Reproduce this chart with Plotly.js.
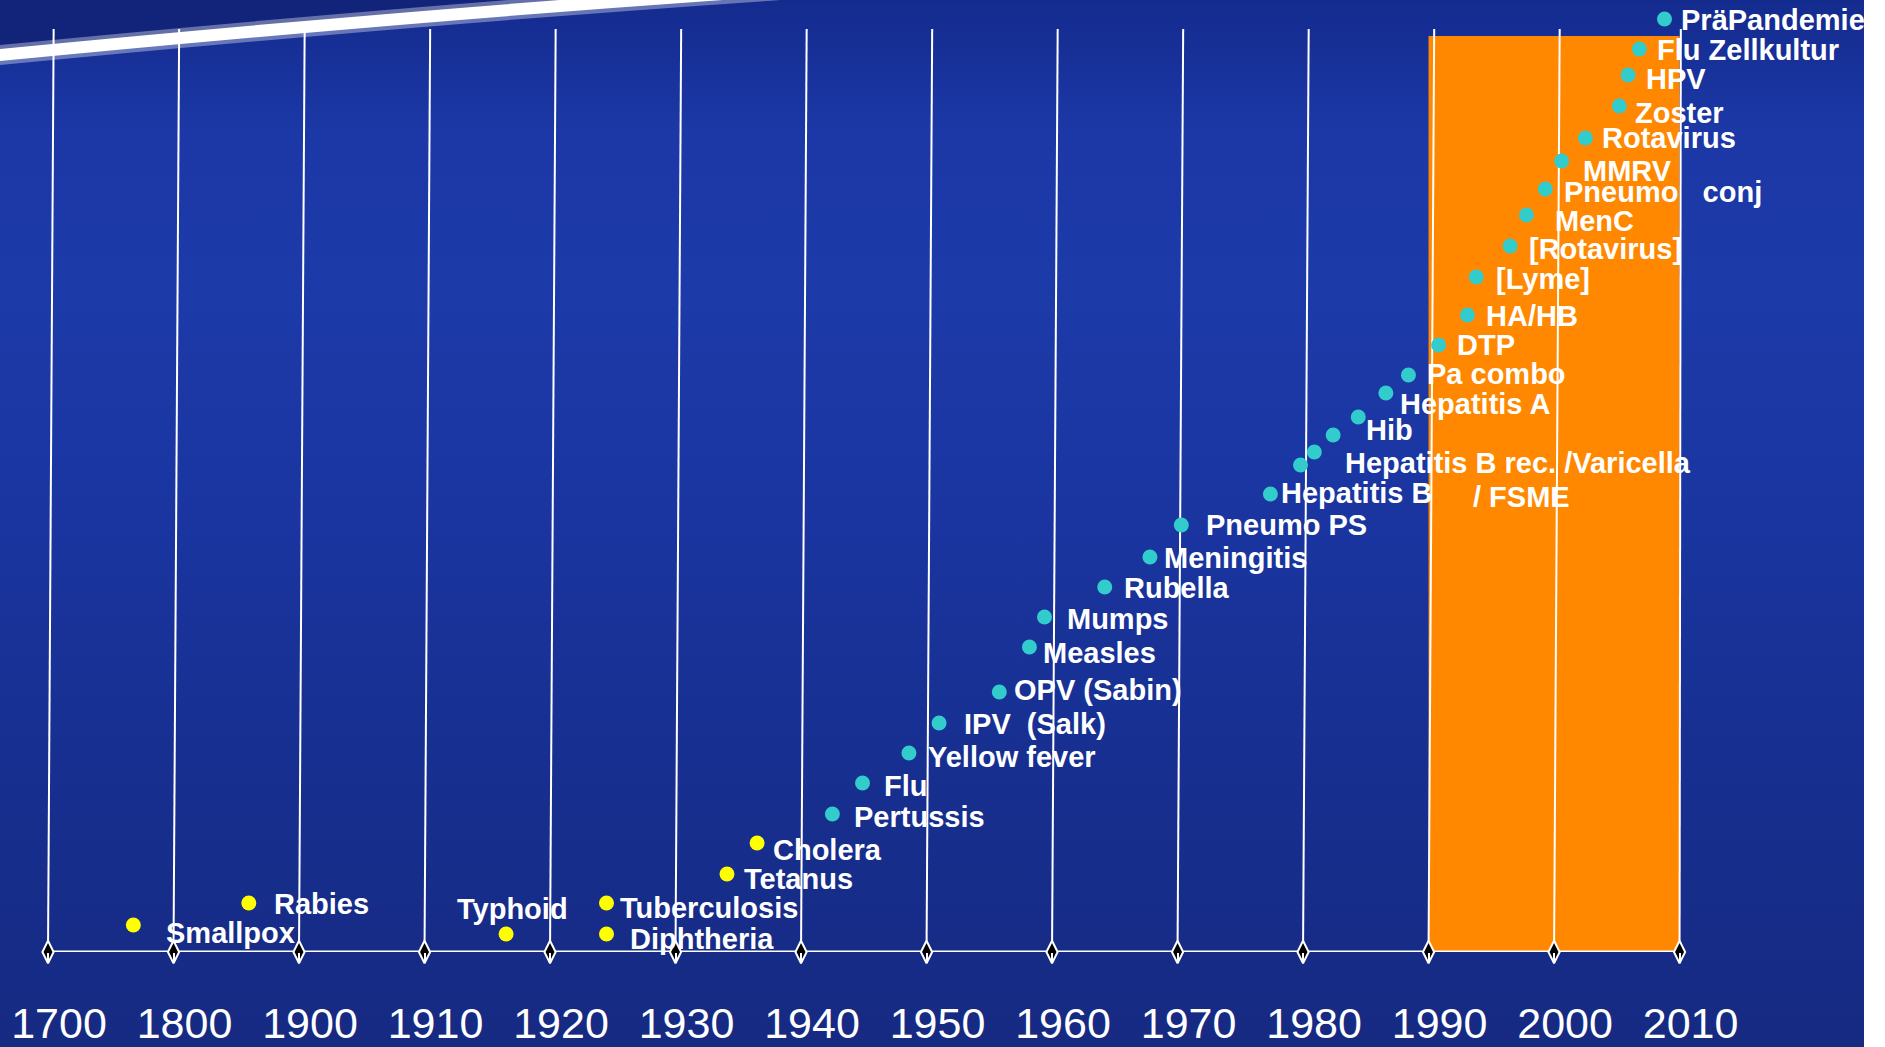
<!DOCTYPE html>
<html>
<head>
<meta charset="utf-8">
<script src="https://cdn.plot.ly/plotly-3.0.1.min.js"></script>
<style>
html, body { margin: 0; padding: 0; background: #ffffff; }
#chart {
  width: 1885px; height: 1047px;
  background:
    linear-gradient(to right, rgba(255,255,255,0) 1864px, #ffffff 1864px),
    linear-gradient(to bottom, #142b8e 0px, #1b38a6 130px, #1c3aa8 300px, #1a35a0 520px, #172f90 760px, #162a82 1047px);
}
</style>
</head>
<body>
<div id="chart"></div>
<script>
// ---------- data ----------
const tickYears = [1700, 1800, 1900, 1910, 1920, 1930, 1940, 1950, 1960, 1970, 1980, 1990, 2000, 2010];

const earlyNames  = ["Smallpox", "Rabies", "Typhoid", "Tuberculosis", "Diphtheria", "Tetanus", "Cholera"];
const earlyYears  = [1768, 1860, 1916.5, 1924.5, 1924.5, 1934.1, 1936.5];
const earlyLevels = [2.7, 4.9, 1.8, 4.9, 1.8, 7.8, 10.9];

const modernNames = ["Pertussis", "Flu", "Yellow fever", "IPV\u00a0\u00a0(Salk)", "OPV (Sabin)", "Measles", "Mumps",
  "Rubella", "Meningitis", "Pneumo PS", "Hepatitis B", "Hepatitis B rec. /Varicella", "", "/ FSME", "Hib",
  "Hepatitis A", "Pa combo", "DTP", "HA/HB", "[Lyme]", "[Rotavirus]", "MenC", "Pneumo\u00a0\u00a0\u00a0conj",
  "MMRV", "Rotavirus", "Zoster", "HPV", "Flu Zellkultur", "PräPandemie"];
const modernYears = [1942.5, 1944.9, 1948.6, 1951.0, 1955.8, 1958.2, 1959.4,
  1964.2, 1967.8, 1970.3, 1977.4, 1979.8, 1980.9, 1982.4, 1984.4,
  1986.6, 1988.4, 1990.8, 1993.1, 1993.8, 1996.5, 1997.8, 1999.3,
  2000.6, 2002.5, 2005.2, 2005.9, 2006.8, 2008.8];
const modernLevels = [13.8, 16.9, 19.9, 22.9, 26.0, 30.5, 33.5,
  36.5, 39.5, 42.7, 45.8, 48.7, 50.0, 51.7, 53.5,
  55.9, 57.7, 60.7, 63.7, 67.5, 70.6, 73.7, 76.3,
  79.1, 81.4, 84.6, 87.7, 90.3, 93.3];

const highlightFrom = 1990, highlightTo = 2010;

// ---------- label placement (pixel offsets from each dot) ----------
const earlyDx = [34, 26, -48, 14, 24, 18, 17];
const earlyDy = [8, 1, -25, 5, 5, 5, 7];
const modernDx = [23, 22, 20, 26, 16, 15, 23, 20, 15, 26, 12, 45, 0, 141, 9, 15, 20, 19, 20, 21, 20, 30, 20, 22, 18, 17, 19, 19, 18];
const modernDy = [3, 3, 4, 1, -2, 6, 2, 1, 1, 0, -1, -2, 0, 62, 13, 11, -1, 0, 1, 2, 3, 6, 3, 10, 0, 7, 4, 1, 1];

// ---------- broken time scale: position on the evenly spaced tick slots ----------
function slot(year) {
  for (let i = 0; i < tickYears.length - 1; i++) {
    if (year <= tickYears[i + 1]) {
      return i + (year - tickYears[i]) / (tickYears[i + 1] - tickYears[i]);
    }
  }
  return tickYears.length - 1;
}

const FONT = "Liberation Sans, Arial, Helvetica, sans-serif";
const xRange = [-0.3825, 14.637];
const yRange = [0, 95.2];
const pxX = px => xRange[0] + px * (xRange[1] - xRange[0]) / 1885;
const pxY = py => (952 - py) / 10;

const tickIdx = tickYears.map((_, i) => i);

const traces = [
  { // diamonds on the baseline
    type: "scatter", mode: "markers", x: tickIdx, y: tickIdx.map(() => 0),
    marker: { symbol: "diamond-tall", size: 16, color: "#000000", line: { color: "#ffffff", width: 2 } },
    cliponaxis: false, hoverinfo: "skip", showlegend: false
  },
  {
    type: "scatter", mode: "markers", name: "early",
    x: earlyYears.map(slot), y: earlyLevels,
    marker: { size: 15, color: "#ffff00" },
    cliponaxis: false, showlegend: false
  },
  {
    type: "scatter", mode: "markers", name: "modern",
    x: modernYears.map(slot), y: modernLevels,
    marker: { size: 15, color: "#33cccc" },
    cliponaxis: false, showlegend: false
  }
];

const shapes = [];
// dark corner above the white swoosh
shapes.push({
  type: "path", layer: "below", xref: "x", yref: "y",
  path: `M ${pxX(0)},${pxY(-10)} L ${pxX(0)},${pxY(55)} Q ${pxX(420)},${pxY(14)} ${pxX(800)},${pxY(-12)} L ${pxX(800)},${pxY(-12)} Z`,
  fillcolor: "#112479", line: { width: 0 }
});
shapes.push({
  type: "path", layer: "below", xref: "x", yref: "y",
  path: `M ${pxX(-10)},${pxY(56)} Q ${pxX(420)},${pxY(14)} ${pxX(810)},${pxY(-12)}`,
  line: { color: "rgba(255,255,255,0.35)", width: 20 }
});
shapes.push({
  type: "path", layer: "below", xref: "x", yref: "y",
  path: `M ${pxX(-10)},${pxY(56)} Q ${pxX(420)},${pxY(14)} ${pxX(810)},${pxY(-12)}`,
  line: { color: "#ffffff", width: 12 }
});
// highlighted period
shapes.push({
  type: "rect", layer: "below", xref: "x", yref: "y",
  x0: slot(highlightFrom), x1: slot(highlightTo), y0: 0, y1: 91.6,
  fillcolor: "#ff8800", line: { width: 0 }
});
// slanted vertical lines
tickIdx.forEach(i => {
  const lean = i === tickIdx.length - 1 ? 0.01 : 0.045;
  shapes.push({
    type: "line", layer: "below", xref: "x", yref: "y",
    x0: i, y0: 0, x1: i + lean, y1: 92.3,
    line: { color: "#ffffff", width: 2 }
  });
});
// baseline
shapes.push({
  type: "line", layer: "below", xref: "x", yref: "y",
  x0: 0, y0: 0, x1: tickIdx.length - 1, y1: 0,
  line: { color: "#ffffff", width: 3 }
});

const annotations = [];
function addLabels(names, years, levels, dx, dy) {
  names.forEach((t, i) => {
    if (!t) return;
    annotations.push({
      x: slot(years[i]), y: levels[i], xref: "x", yref: "y",
      text: t, showarrow: false, xanchor: "left", yanchor: "middle",
      xshift: dx[i] - 3, yshift: -dy[i],
      font: { family: FONT, size: 29, color: "#ffffff", weight: "bold" }
    });
  });
}
addLabels(earlyNames, earlyYears, earlyLevels, earlyDx, earlyDy);
addLabels(modernNames, modernYears, modernLevels, modernDx, modernDy);

const layout = {
  width: 1885, height: 1047,
  margin: { l: 0, r: 0, t: 0, b: 95, pad: 0 },
  paper_bgcolor: "rgba(0,0,0,0)", plot_bgcolor: "rgba(0,0,0,0)",
  showlegend: false,
  xaxis: {
    range: xRange, fixedrange: true,
    tickmode: "array", tickvals: tickIdx, ticktext: tickYears.map(String),
    showgrid: false, zeroline: false, showline: false,
    ticks: "outside", ticklen: 10, tickwidth: 2, tickcolor: "#ffffff",
    ticklabelstandoff: 23, ticklabelshift: 11,
    tickfont: { family: FONT, size: 43, color: "#ffffff" }
  },
  yaxis: { range: yRange, visible: false, fixedrange: true, showgrid: false, zeroline: false },
  shapes: shapes,
  annotations: annotations
};

Plotly.newPlot("chart", traces, layout, { staticPlot: true, displayModeBar: false });
</script>
</body>
</html>
